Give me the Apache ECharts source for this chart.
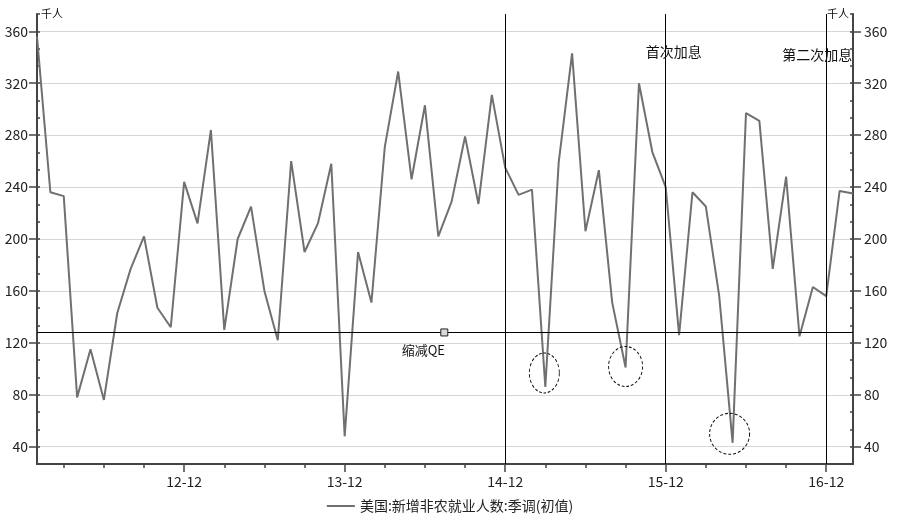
<!DOCTYPE html>
<html>
<head>
<meta charset="utf-8">
<script src="https://cdn.jsdelivr.net/npm/echarts@6/dist/echarts.min.js"></script>
<style>
html,body{margin:0;padding:0;background:#fff;}
#c{width:900px;height:524px;}
</style>
</head>
<body>
<div id="c"></div>
<script>
var months = ['12-01','12-02','12-03','12-04','12-05','12-06','12-07','12-08','12-09','12-10','12-11','12-12',
 '13-01','13-02','13-03','13-04','13-05','13-06','13-07','13-08','13-09','13-10','13-11','13-12',
 '14-01','14-02','14-03','14-04','14-05','14-06','14-07','14-08','14-09','14-10','14-11','14-12',
 '15-01','15-02','15-03','15-04','15-05','15-06','15-07','15-08','15-09','15-10','15-11','15-12',
 '16-01','16-02','16-03','16-04','16-05','16-06','16-07','16-08','16-09','16-10','16-11','16-12',
 '17-01','17-02'];
var payrolls = [356,236,233,78,115,76,143,177,202,147,132,244,
 212,284,130,200,225,160,122,260,190,212,258,48,
 190,151,271,329,246,303,202,229,279,227,311,255,
 234,238,86,259,343,206,253,151,101,320,267,240,
 126,236,225,156,43,297,291,177,248,125,163,156,
 237,235];
var yTicks = [40,80,120,160,200,240,280,320,360];
var seriesName = '美国:新增非农就业人数:季调(初值)';
var qeLevel = 128;
var eventLines = ['14-12','15-12','16-12'];
var eventTexts = [{x:'15-12', y:344, text:'首次加息'}, {x:'16-12', y:342, text:'第二次加息'}];
var circled = [{x:'15-03', y:86}, {x:'15-09', y:101}, {x:'16-05', y:43}];

var FONT = 'Noto Sans CJK SC';
var yMin = 80/3, yMax = 1120/3, yStep = 40/3;
function lab(v){ var r = Math.round(v); return (Math.abs(v - r) < 0.01 && r % 40 === 0 && r >= 40) ? String(r) : ''; }

var chart = echarts.init(document.getElementById('c'), null, {renderer:'canvas'});
var circleCfg = [
  {size:[30,40], off:[-1,-14]},
  {size:[34,40], off:[0,-1]},
  {size:[40,41], off:[-3,-9]}
];
var mpData = circled.map(function(c, i){
  return {coord:[c.x, c.y], symbol:'circle', symbolSize:circleCfg[i].size, symbolOffset:circleCfg[i].off,
    itemStyle:{color:'rgba(0,0,0,0)', borderColor:'#111', borderWidth:1, borderType:[3,2]}, label:{show:false}};
});
mpData.push({coord:['14-07', qeLevel], symbol:'rect', symbolSize:7, symbolOffset:[6,0],
  itemStyle:{color:'#d9d9d9', borderColor:'#222', borderWidth:1},
  label:{show:true, formatter:'缩减QE', position:'inside', offset:[-21,18], fontSize:13, color:'#111', fontFamily:FONT}});
eventTexts.forEach(function(t, i){
  mpData.push({coord:[t.x, t.y], symbol:'circle', symbolSize:1, itemStyle:{color:'rgba(0,0,0,0)'},
    label:{show:true, formatter:t.text, position:'inside', offset:[i===0?8:-9, 0], fontSize:14, color:'#111', fontFamily:FONT}});
});
var mlData = [{yAxis:qeLevel}].concat(eventLines.map(function(x){ return {xAxis:x}; }));

var option = {
  animation:false,
  textStyle:{fontFamily:FONT},
  grid:{left:37, right:47, top:14, bottom:60, containLabel:false},
  legend:{bottom:6, left:'center', icon:'rect', itemWidth:28, itemHeight:2, itemGap:10,
    textStyle:{fontSize:14, color:'#222', fontFamily:FONT}, data:[seriesName]},
  xAxis:[
    {type:'category', data:months, boundaryGap:false, position:'bottom',
     axisLine:{show:true, lineStyle:{color:'#444', width:2}},
     axisTick:{show:true, interval:function(i){ return i % 3 === 2; }, length:4, lineStyle:{color:'#444', width:1.5}},
     axisLabel:{show:false}, splitLine:{show:false}},
    {type:'category', data:months, boundaryGap:false, position:'bottom',
     axisLine:{show:false},
     axisTick:{show:true, interval:function(i){ return i % 12 === 11; }, length:8, lineStyle:{color:'#444', width:1.5}},
     axisLabel:{show:true, interval:function(i){ return i % 12 === 11; }, fontSize:14, color:'#222', margin:11, fontFamily:FONT},
     splitLine:{show:false}}
  ],
  yAxis:[
    {type:'value', position:'left', min:yMin, max:yMax, interval:yStep,
     axisLine:{show:true, lineStyle:{color:'#444', width:2}},
     axisTick:{show:true, inside:true, length:3, lineStyle:{color:'#444', width:1.5}},
     axisLabel:{formatter:lab, fontSize:14, color:'#222', margin:9, fontFamily:FONT},
     splitLine:{show:true, lineStyle:{color:['rgba(0,0,0,0)','#d6d6d6','rgba(0,0,0,0)'], width:1}}},
    {type:'value', position:'left', min:yMin, max:yMax,
     axisLine:{show:false},
     axisTick:{show:true, customValues:yTicks, length:8, lineStyle:{color:'#444', width:1.5}},
     axisLabel:{show:false}, splitLine:{show:false},
     name:'千人', nameLocation:'end', nameGap:0,
     nameTextStyle:{fontSize:11, color:'#111', align:'left', verticalAlign:'middle', padding:[0,0,0,4], fontFamily:FONT}},
    {type:'value', position:'right', min:yMin, max:yMax, interval:yStep,
     axisLine:{show:true, lineStyle:{color:'#444', width:2}},
     axisTick:{show:true, inside:true, length:3, lineStyle:{color:'#444', width:1.5}},
     axisLabel:{formatter:lab, fontSize:14, color:'#222', margin:11, fontFamily:FONT},
     splitLine:{show:false}},
    {type:'value', position:'right', min:yMin, max:yMax,
     axisLine:{show:false},
     axisTick:{show:true, customValues:yTicks, length:8, lineStyle:{color:'#444', width:1.5}},
     axisLabel:{show:false}, splitLine:{show:false},
     name:'千人', nameLocation:'end', nameGap:0,
     nameTextStyle:{fontSize:11, color:'#111', align:'right', verticalAlign:'middle', padding:[0,4,0,0], fontFamily:FONT}}
  ],
  series:[{
    name:seriesName, type:'line', xAxisIndex:0, yAxisIndex:0, data:payrolls,
    symbol:'none', lineStyle:{color:'#707070', width:2}, itemStyle:{color:'#707070'},
    markLine:{silent:true, symbol:['none','none'], label:{show:false},
      lineStyle:{color:'#000', width:1, type:'solid'}, emphasis:{disabled:true}, data:mlData},
    markPoint:{silent:true, data:mpData}
  }]
};
chart.setOption(option);
</script>
</body>
</html>
